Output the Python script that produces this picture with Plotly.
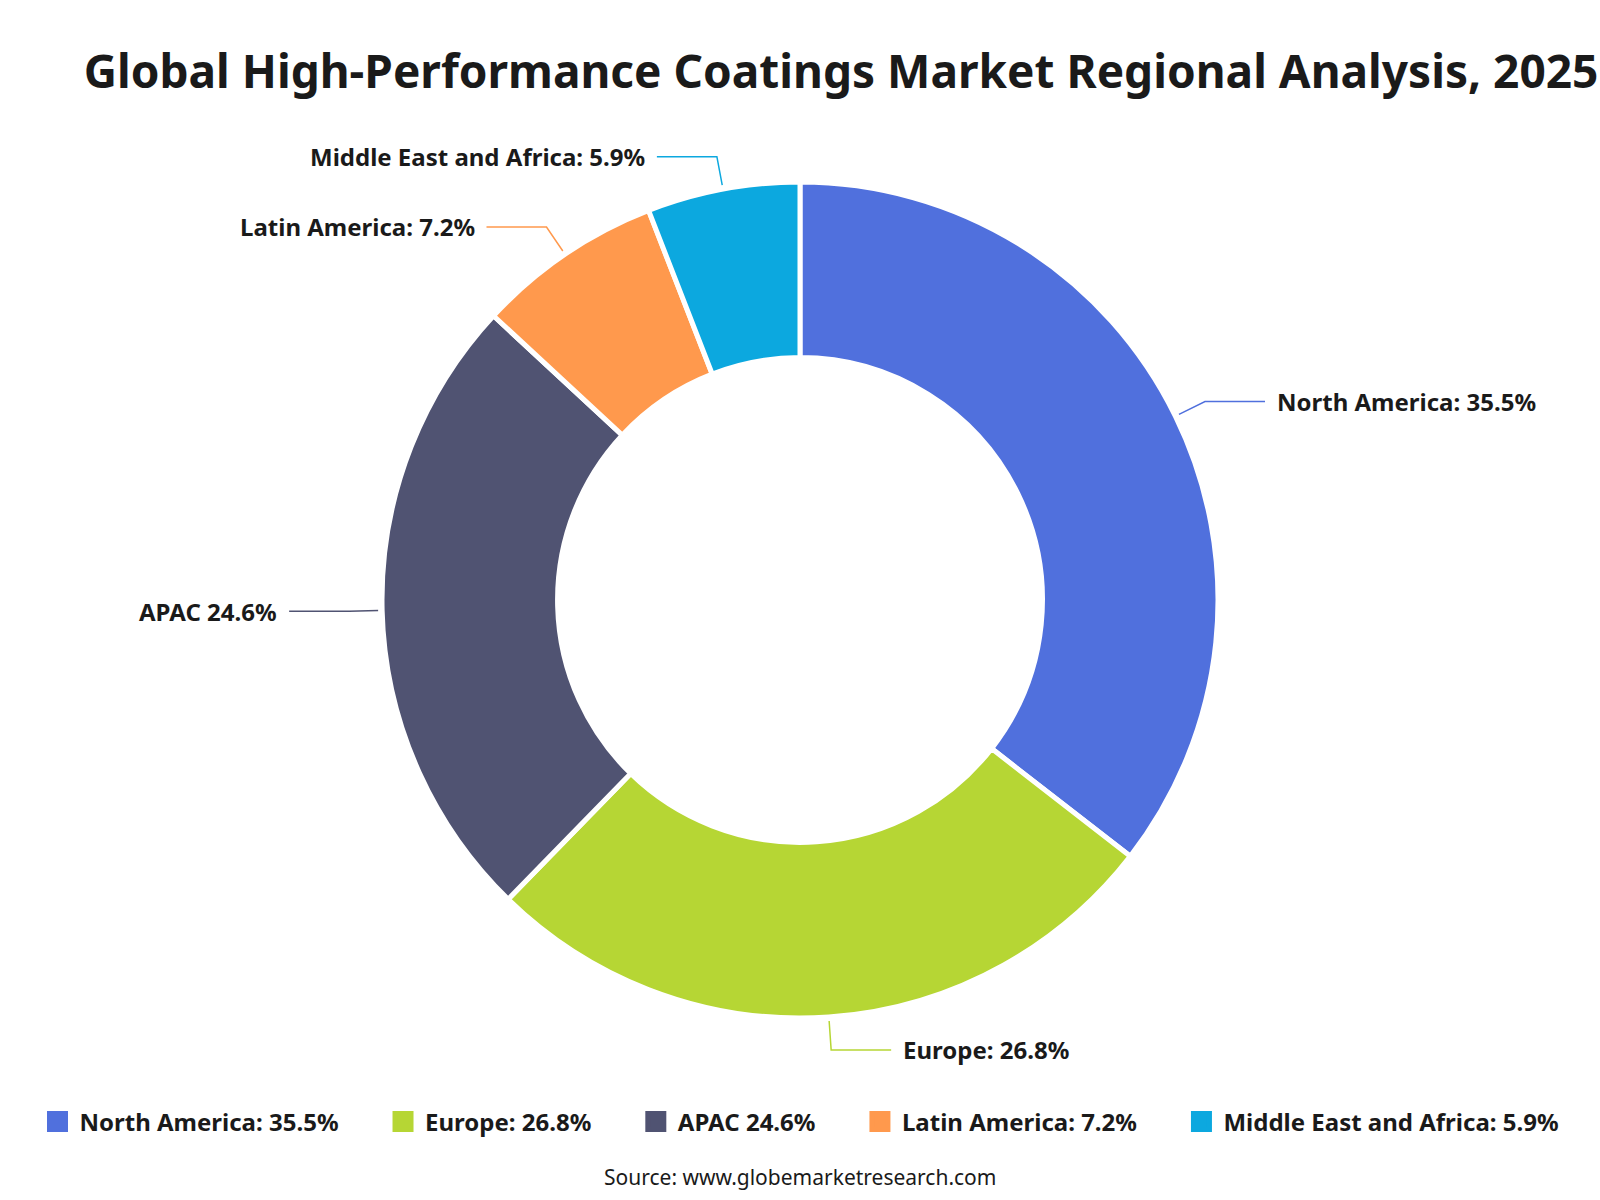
import math
import plotly.graph_objects as go

# ---- data ----
labels = ["North America: 35.5%", "Europe: 26.8%", "APAC 24.6%",
          "Latin America: 7.2%", "Middle East and Africa: 5.9%"]
values = [35.5, 26.8, 24.6, 7.2, 5.9]
colors = ["#5070dd", "#b6d634", "#505372", "#ff994d", "#0ca8df"]
title_text = "Global High-Performance Coatings Market Regional Analysis, 2025"
source_text = "Source: www.globemarketresearch.com"

W, H = 1600, 1200
CX, CY = 800, 600          # pie centre (px)
R = 418                    # outer radius (px)
HOLE = 0.58
FONT = "Noto Sans"
TXT = "#1a1a1a"

def px2paper(x, y):
    return x / W, 1 - y / H

fig = go.Figure()

fig.add_trace(go.Pie(
    labels=labels, values=values, sort=False, direction="clockwise",
    rotation=0, hole=HOLE,
    marker=dict(colors=colors, line=dict(color="white", width=5)),
    textinfo="none", hoverinfo="label", showlegend=False,
    domain=dict(x=[0, 1], y=[(H - CY - R) / H, (H - CY + R) / H]),
))

# legend entries (dummy markers)
for i, (lab, col) in enumerate(zip(labels, colors)):
    name = "<b>" + lab + "</b>" + ("\u00a0" * 6 if i < len(labels) - 1 else "")
    fig.add_trace(go.Scatter(
        x=[0], y=[0], mode="markers", name=name,
        marker=dict(symbol="square", size=16, color=col,
                    line=dict(color=col, width=5)),
        hoverinfo="skip", showlegend=True,
    ))

# outside labels with leader lines, positioned from the data
total = sum(values)
cum = 0.0
annotations = []
shapes = []
for lab, val, col in zip(labels, values, colors):
    mid = (cum + val / 2) / total * 2 * math.pi
    cum += val
    sx, sy = math.sin(mid), -math.cos(mid)
    x1, y1 = CX + (R + 4) * sx, CY + (R + 4) * sy
    x2, y2 = CX + (R + 33) * sx, CY + (R + 33) * sy
    side = 1 if sx >= 0 else -1
    x3 = x2 + side * 60
    px1, py1 = px2paper(x1, y1)
    px2, py2 = px2paper(x2, y2)
    px3, py3 = px2paper(x3, y2)
    shapes.append(dict(type="path", xref="paper", yref="paper",
                       path=f"M {px1} {py1} L {px2} {py2} L {px3} {py3}",
                       line=dict(color=col, width=1.5)))
    tx, ty = px2paper(x3 + side * 10, y2)
    annotations.append(dict(
        x=tx, y=ty, xref="paper", yref="paper", text=f"<b>{lab}</b>",
        showarrow=False, xanchor="left" if side > 0 else "right",
        yanchor="middle", font=dict(family=FONT, size=24, color=TXT)))

sx_, sy_ = px2paper(800, 1177)
annotations.append(dict(
    x=sx_, y=sy_, xref="paper", yref="paper", text=source_text,
    showarrow=False, xanchor="center", yanchor="middle",
    font=dict(family=FONT, size=21, color=TXT)))

fig.update_layout(
    width=W, height=H,
    margin=dict(l=0, r=0, t=0, b=0),
    paper_bgcolor="white", plot_bgcolor="white",
    title=dict(text=f"<b>{title_text}</b>", x=841 / W, xanchor="center",
               y=1 - 72 / H, yanchor="middle", xref="paper", yref="paper",
               font=dict(family=FONT, size=46, color=TXT)),
    xaxis=dict(visible=False, range=[1, 2], fixedrange=True),
    yaxis=dict(visible=False, range=[1, 2], fixedrange=True),
    legend=dict(orientation="h", x=0.5, xanchor="center",
                y=1 - 1122 / H, yanchor="middle",
                font=dict(family=FONT, size=24, color=TXT),
                itemwidth=34, bgcolor="rgba(0,0,0,0)"),
    annotations=annotations, shapes=shapes,
)

fig.write_html("out.html")
